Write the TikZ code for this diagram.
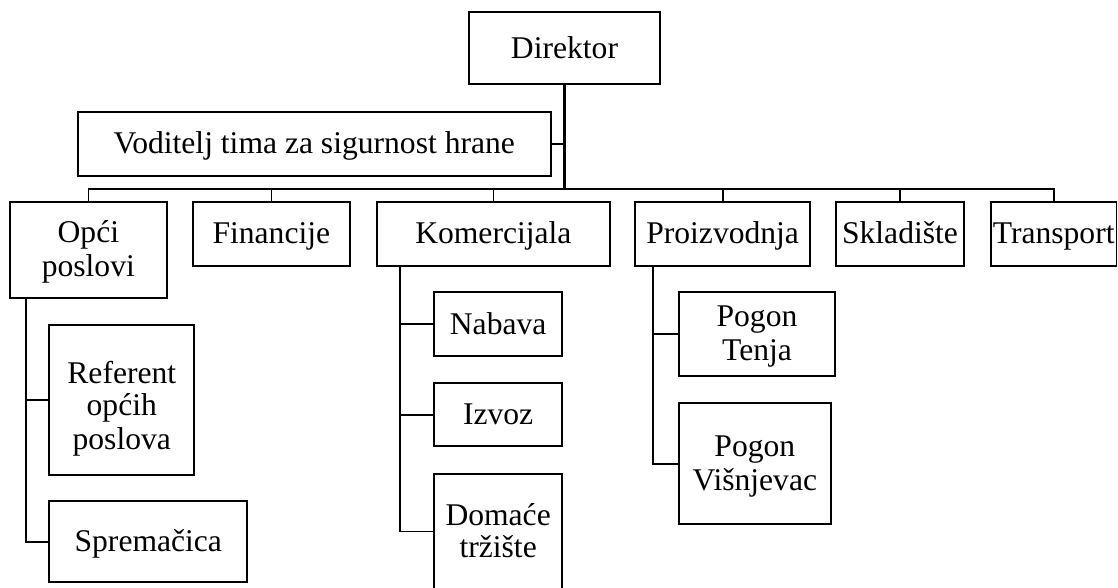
\documentclass[tikz,border=0pt]{standalone}
\usepackage{fontspec}
\setmainfont{Liberation Serif}
\newcommand\zstrut{\rule[-6pt]{0pt}{32pt}}
\newcommand\zstruttall{\rule[-6pt]{0pt}{46pt}}
\begin{document}
\begin{tikzpicture}[x=1pt,y=-1pt,
  box/.style={draw=black, line width=1.8pt, rectangle, inner sep=0pt, align=center,
    font=\fontsize{31.6}{32.5}\selectfont},
  link/.style={draw=black, line width=1.7pt},
  trunk/.style={draw=black, line width=2.3pt}]
\useasboundingbox (0,0) rectangle (1118,587);
\fill[white] (0,0) rectangle (1118,587);
% top level
\node[box, minimum width=191.6pt, minimum height=72pt] (dir) at (564.5,48.3) {\zstrut Direktor};
\node[box, minimum width=473pt, minimum height=64pt] (vod) at (314.2,143.7) {\zstrut Voditelj tima za sigurnost hrane};
% departments
\node[box, minimum width=156.7pt, minimum height=96.3pt] (opci) at (88.35,249.85) {\zstrut Opći\\\zstrut poslovi};
\node[box, minimum width=157.3pt, minimum height=64pt] (fin) at (271.35,233.7) {\zstrut Financije};
\node[box, minimum width=232.7pt, minimum height=64pt] (kom) at (493.35,233.7) {\zstrut Komercijala};
\node[box, minimum width=174.7pt, minimum height=64pt] (pro) at (722.65,233.7) {\zstrut Proizvodnja};
\node[box, minimum width=128pt, minimum height=64pt] (skl) at (900,233.7) {\zstrut Skladište};
\node[box, minimum width=125.6pt, minimum height=64pt] (tra) at (1053.7,233.7) {\zstrut Transport};
% sub units
\node[box, minimum width=145pt, minimum height=150pt] (ref) at (121.8,399.7) {\zstruttall Referent\\\zstrut općih\\\zstrut poslova};
\node[box, minimum width=198pt, minimum height=80.7pt] (spr) at (148.3,541.65) {\zstrut Spremačica};
\node[box, minimum width=128.3pt, minimum height=64.3pt] (nab) at (498.15,324.15) {\zstrut Nabava};
\node[box, minimum width=128.3pt, minimum height=63.3pt] (izv) at (498.15,414.65) {\zstrut Izvoz};
\node[box, minimum width=128.3pt, minimum height=115.3pt] (dom) at (498.15,531.35) {\zstrut Domaće\\\zstrut tržište};
\node[box, minimum width=156pt, minimum height=83.7pt] (pte) at (757,334.15) {\zstrut Pogon\\\zstrut Tenja};
\node[box, minimum width=151.7pt, minimum height=121pt] (pvi) at (754.85,463.8) {\zstrut Pogon\\\zstrut Višnjevac};
% connectors
\coordinate (bus) at (564.5,189);
\draw[trunk] (dir.south) -- (bus);
\draw[link] (vod.east) -- (vod.east -| dir.south);
\draw[link] (opci.north) |- (bus) -| (tra.north);
\draw[link] (fin.north) -- (fin.north |- bus);
\draw[link] (kom.north) -- (kom.north |- bus);
\draw[link] (pro.north) -- (pro.north |- bus);
\draw[link] (skl.north) -- (skl.north |- bus);
% Opci children
\coordinate (oc) at (26,298);
\draw[link] (oc) |- (spr.west);
\draw[link] (oc |- ref.west) -- (ref.west);
% Komercijala children
\coordinate (kc) at (399.7,265.7);
\draw[link] (kc) |- (dom.west);
\draw[link] (kc |- nab.west) -- (nab.west);
\draw[link] (kc |- izv.west) -- (izv.west);
% Proizvodnja children
\coordinate (pc) at (653.3,265.7);
\draw[link] (pc) |- (pvi.west);
\draw[link] (pc |- pte.west) -- (pte.west);
\end{tikzpicture}
\end{document}
